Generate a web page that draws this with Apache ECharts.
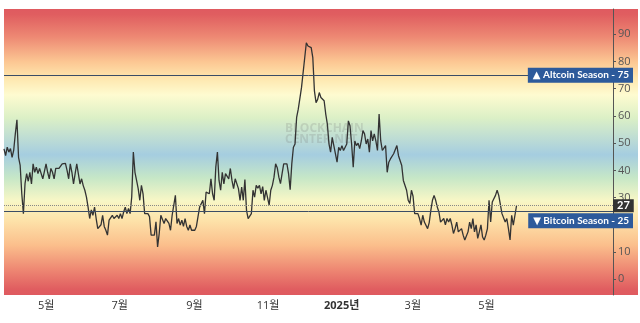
<!DOCTYPE html>
<html>
<head>
<meta charset="utf-8">
<script src="https://cdn.jsdelivr.net/npm/echarts@6/dist/echarts.min.js"></script>
<style>
  html, body { margin: 0; padding: 0; background: #fff; }
  #main { width: 640px; height: 323px; }
</style>
</head>
<body>
<div id="main"></div>
<script>
// altcoin season index, sampled evenly from firstDay to lastDay
var firstDay = '2024-03-27';
var lastDay = '2025-05-26';
var axisEndDay = '2025-08-14';
var seasonIndex = [
  47.9, 45.4, 48.5, 46.7, 48, 44.8, 47.4, 53.4, 58.6, 44.8,
  41.8, 31.4, 24.1, 35.1, 38.8, 36, 39.3, 35, 42.4, 39.3,
  41.2, 38.8, 40.7, 38.8, 36.9, 36.9, 42.4, 39.3, 36.9, 40.7,
  39.3, 36.9, 40.7, 40.7, 40.7, 41.2, 42.4, 42, 42.6, 40,
  36.9, 42.4, 39.3, 35, 38.8, 42.4, 42.6, 35, 36.9, 34.4,
  32.7, 30.2, 26.5, 22.3, 25.5, 23.5, 26.5, 22.3, 18.6, 18,
  20, 23.5, 19.4, 18, 16.2, 21.7, 22.3, 23.5, 22.3, 22.3,
  23.5, 22.3, 24.1, 22.3, 24.7, 26.5, 24.1, 26,
  24.1, 30.2, 46.7, 39.3, 36.3, 33.3, 29, 34.5, 31.4, 24.1,
  23.5, 24.1, 23, 16.2, 16.2, 16.2, 21.1, 11.9, 16.8, 23.5,
  23.5, 20.5, 22.3, 21.7, 20.5, 18, 23.5, 23, 30.8, 20.5,
  22.3, 19.9, 21.7, 19.4, 22.3, 19.4, 18, 19.9, 18, 18.6,
  18, 19.4, 23, 26.5, 26.5, 29, 24.1, 32, 32.7, 31.4,
  36.9, 31.4, 29, 41.2, 46.7, 36.3, 32.7, 39.3, 35, 38.8,
  38.8, 36.9, 40.7, 36.3, 33.3, 36.9, 36.3, 33.3, 29, 33.9,
  29, 36.6, 25.3, 22.3, 23, 24.1,
  32.7, 30.2, 34.5, 33.5, 34.5, 31.4, 34, 29, 32.7, 30,
  27.2, 32.7, 34.5, 37.5, 42.4, 41, 37.5, 35.1, 38.8, 42.4,
  42.6, 42.4, 38.8, 32.9, 42.4, 48.5, 49.7, 59.5, 62.5, 62.8,
  70.4, 71, 81.4, 86.9, 85.7, 85.7, 85.1, 81.4, 69.2, 64.9,
  66.1, 68.6, 66.8, 66.1, 65.6, 60.7, 57, 49.7, 46.7, 52.1,
  49.1, 49.3, 43, 48.5, 47.3, 49.1, 47.3, 48.5, 49.7, 58.2,
  56.4, 49.7, 41.2, 50.8, 49.1, 50, 48, 50.8, 54.6, 53.4,
  49.7, 51.5, 46.7, 54.6, 50.8, 53.4, 50.8, 47.3, 60.7,
  50.9, 47.3, 47, 49.1, 39.3, 43, 44.2, 44, 46.1, 45.8,
  49.1, 45.4, 45.4, 41.8, 36.3, 36.5, 32.7, 29, 27.8, 32.7,
  30.5, 24.1, 23.5, 24.1, 22.3, 19.9, 23.5, 21, 20.8, 18.6,
  20.8, 25.3, 29, 30.8, 29, 26.5, 24.7, 21, 20.8, 22.3,
  20, 22.3, 21, 22.3, 20, 16.8, 18.6, 21, 17.4, 16.8,
  18.6, 16.2, 14.4, 14.4, 17.4, 21, 18.6, 22.3, 17.4, 20,
  15, 17.4, 20, 15.5, 14.4, 16.2, 18.6, 29, 21, 28.4,
  29, 30.8, 32.7, 30.8, 30.2, 24.1, 23.5, 21, 22.3, 18.6,
  14.4, 23.5, 19.9, 20.5, 27
];
var monthTicks = ['2024-05-01', '2024-07-01', '2024-09-01', '2024-11-01', '2025-01-01', '2025-03-01', '2025-05-01'];
var yTicks = [0, 10, 20, 30, 40, 50, 60, 70, 80, 90];
var altcoinLevel = 75;
var bitcoinLevel = 25;
var currentValue = seasonIndex[seasonIndex.length - 1];

function toTime(s) {
  var p = s.split('-');
  return new Date(+p[0], p[1] - 1, +p[2]).getTime();
}

var t0 = toTime(firstDay), t1 = toTime(lastDay);
var step = (t1 - t0) / (seasonIndex.length - 1);
var lineData = seasonIndex.map(function (v, i) { return [t0 + i * step, v]; });

var FONT = "'Open Sans', 'Noto Sans CJK KR', sans-serif";
var BOX_FONT = "Lato, 'DejaVu Sans', sans-serif";

var myChart = echarts.init(document.getElementById('main'));

var bg = new echarts.graphic.LinearGradient(0, 0, 0, 1, [
  { offset: 0, color: '#df5a60' },
  { offset: 0.02, color: '#e05e60' },
  { offset: 0.10, color: '#ee8a74' },
  { offset: 0.185, color: '#fcc793' },
  { offset: 0.24, color: '#fee6ad' },
  { offset: 0.30, color: '#fefbd0' },
  { offset: 0.38, color: '#dcf0c6' },
  { offset: 0.51, color: '#a5cde0' },
  { offset: 0.59, color: '#c6e7c7' },
  { offset: 0.67, color: '#f8f7c6' },
  { offset: 0.74, color: '#fde2a9' },
  { offset: 0.825, color: '#fbbf8c' },
  { offset: 0.91, color: '#ee8873' },
  { offset: 0.98, color: '#e05d60' },
  { offset: 1, color: '#df5a60' }
]);

function boxLabel(text, pos, dist) {
  return {
    position: pos, distance: dist, align: 'right',
    formatter: text,
    fontFamily: BOX_FONT, color: '#fff', fontSize: 10, fontWeight: 'bold',
    backgroundColor: '#2d5a9b', padding: [3, 4, 2, 5]
  };
}

var option = {
  animation: false,
  textStyle: { fontFamily: FONT },
  grid: { left: 4, right: 27, top: 9, bottom: 28 },
  graphic: [
    { type: 'rect', z: -10, shape: { x: 4, y: 9, width: 634, height: 286 }, style: { fill: bg } },
    {
      type: 'text', left: 285, top: 123, z: 1,
      style: { text: 'BLOCKCHAIN\nCENTER.NET', font: 'bold 12px ' + FONT, fill: 'rgba(110,110,110,0.2)', lineHeight: 11 }
    }
  ],
  xAxis: {
    type: 'value',
    min: t0,
    max: toTime(axisEndDay),
    axisLine: { show: false },
    axisTick: { show: false },
    splitLine: { show: false },
    axisLabel: {
      customValues: monthTicks.map(toTime),
      color: '#333',
      fontSize: 11,
      margin: 5,
      formatter: function (val) {
        var d = new Date(val);
        if (d.getMonth() === 0) return '{y|' + d.getFullYear() + '년}';
        return (d.getMonth() + 1) + '월';
      },
      rich: { y: { fontWeight: 'bold', fontSize: 11, color: '#333' } }
    }
  },
  yAxis: {
    type: 'value',
    position: 'right',
    min: -5.8,
    max: 99.3,
    splitLine: { show: false },
    axisLine: { show: true, lineStyle: { color: '#555' } },
    axisTick: { show: true, length: 3, customValues: yTicks, lineStyle: { color: '#555' } },
    axisLabel: { customValues: yTicks, color: '#555', fontSize: 11, margin: 5 }
  },
  series: [{
    type: 'line',
    data: lineData,
    showSymbol: false,
    symbol: 'none',
    lineStyle: { color: '#333', width: 1.3 },
    markLine: {
      silent: true,
      symbol: 'none',
      data: [
        {
          yAxis: altcoinLevel,
          lineStyle: { color: '#3a4d66', width: 1, type: 'solid' },
          label: boxLabel('▲ Altcoin Season - ' + altcoinLevel, 'insideEnd', [-20, 0])
        },
        {
          yAxis: bitcoinLevel,
          lineStyle: { color: '#3a4d66', width: 1, type: 'solid' },
          label: boxLabel('▼ Bitcoin Season - ' + bitcoinLevel, 'insideEndBottom', [-20, 2])
        },
        {
          yAxis: currentValue,
          lineStyle: { color: '#888', width: 1, type: 'dotted' },
          label: {
            position: 'end', distance: 0, align: 'left',
            formatter: String(currentValue),
            fontFamily: BOX_FONT, color: '#fff', fontSize: 11, fontWeight: 'bold',
            backgroundColor: '#333', padding: [1, 4, 1, 4]
          }
        }
      ]
    }
  }]
};

myChart.setOption(option);
</script>
</body>
</html>
